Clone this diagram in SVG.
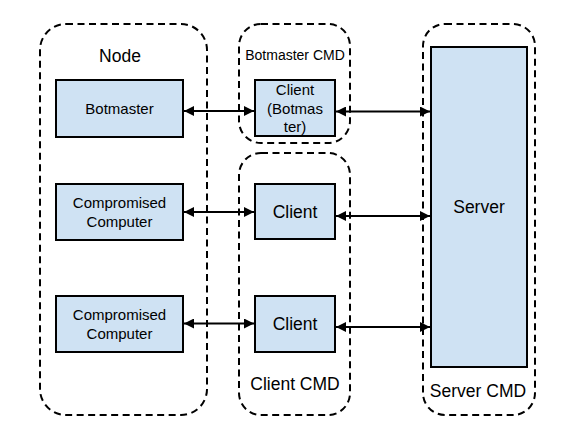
<svg xmlns="http://www.w3.org/2000/svg" width="566" height="433" viewBox="0 0 566 433">
<defs>
<style>
.grp{fill:none;stroke:#000;stroke-width:2;stroke-dasharray:7,4.5}
.box{fill:#cfe2f3;stroke:#000;stroke-width:2}
text{font-family:"Liberation Sans",Arial,sans-serif;fill:#000;text-anchor:middle}
.t14{font-size:14px}
.t15{font-size:15px}
.t18{font-size:17.5px}
.con{stroke:#000;stroke-width:2;fill:none;marker-start:url(#ah);marker-end:url(#ah)}
</style>
<marker id="ah" viewBox="0 0 10 10" refX="10" refY="5" markerWidth="5.5" markerHeight="5" orient="auto-start-reverse" markerUnits="strokeWidth">
<path d="M0,0L10,5L0,10z" fill="#000"/>
</marker>
</defs>
<rect width="566" height="433" fill="#fff"/>
<g id="node-group">
<rect class="grp" x="40" y="24" width="167" height="391" rx="26"/>
<text class="t18" x="120" y="62">Node</text>
</g>
<g id="botmaster-cmd">
<rect class="grp" x="239" y="24" width="111" height="119" rx="22"/>
<text class="t14" x="295" y="60">Botmaster CMD</text>
</g>
<g id="client-cmd">
<rect class="grp" x="239" y="153" width="111" height="262" rx="22"/>
<text class="t18" x="295" y="390">Client CMD</text>
</g>
<g id="server-cmd">
<rect class="grp" x="423" y="24" width="112" height="391" rx="22"/>
<text class="t18" x="478" y="397">Server CMD</text>
</g>
<g id="botmaster">
<rect class="box" x="56" y="80" width="127" height="57"/>
<text class="t15" x="119.5" y="114">Botmaster</text>
</g>
<g id="comp1">
<rect class="box" x="56" y="184" width="127" height="56"/>
<text class="t15" x="119.5" y="208">Compromised</text>
<text class="t15" x="119.5" y="227">Computer</text>
</g>
<g id="comp2">
<rect class="box" x="56" y="296" width="127" height="56"/>
<text class="t15" x="119.5" y="320">Compromised</text>
<text class="t15" x="119.5" y="339">Computer</text>
</g>
<g id="client-botmaster">
<rect class="box" x="255" y="80" width="80" height="56"/>
<text class="t15" x="295" y="95">Client</text>
<text class="t15" x="295" y="114">(Botmas</text>
<text class="t15" x="295" y="132">ter)</text>
</g>
<g id="client1">
<rect class="box" x="255" y="184" width="80" height="55"/>
<text class="t18" x="295" y="218">Client</text>
</g>
<g id="client2">
<rect class="box" x="255" y="296" width="80" height="56"/>
<text class="t18" x="295" y="330">Client</text>
</g>
<g id="server">
<rect class="box" x="431" y="47" width="96" height="320"/>
<text class="t18" x="479" y="213">Server</text>
</g>
<g id="connectors">
<line class="con" x1="184" y1="111" x2="254" y2="111"/>
<line class="con" x1="336" y1="111.5" x2="430" y2="111.5"/>
<line class="con" x1="184" y1="212" x2="254" y2="212"/>
<line class="con" x1="336" y1="216" x2="430" y2="216"/>
<line class="con" x1="184" y1="323.5" x2="254" y2="323.5"/>
<line class="con" x1="336" y1="327" x2="430" y2="327"/>
</g>
</svg>
